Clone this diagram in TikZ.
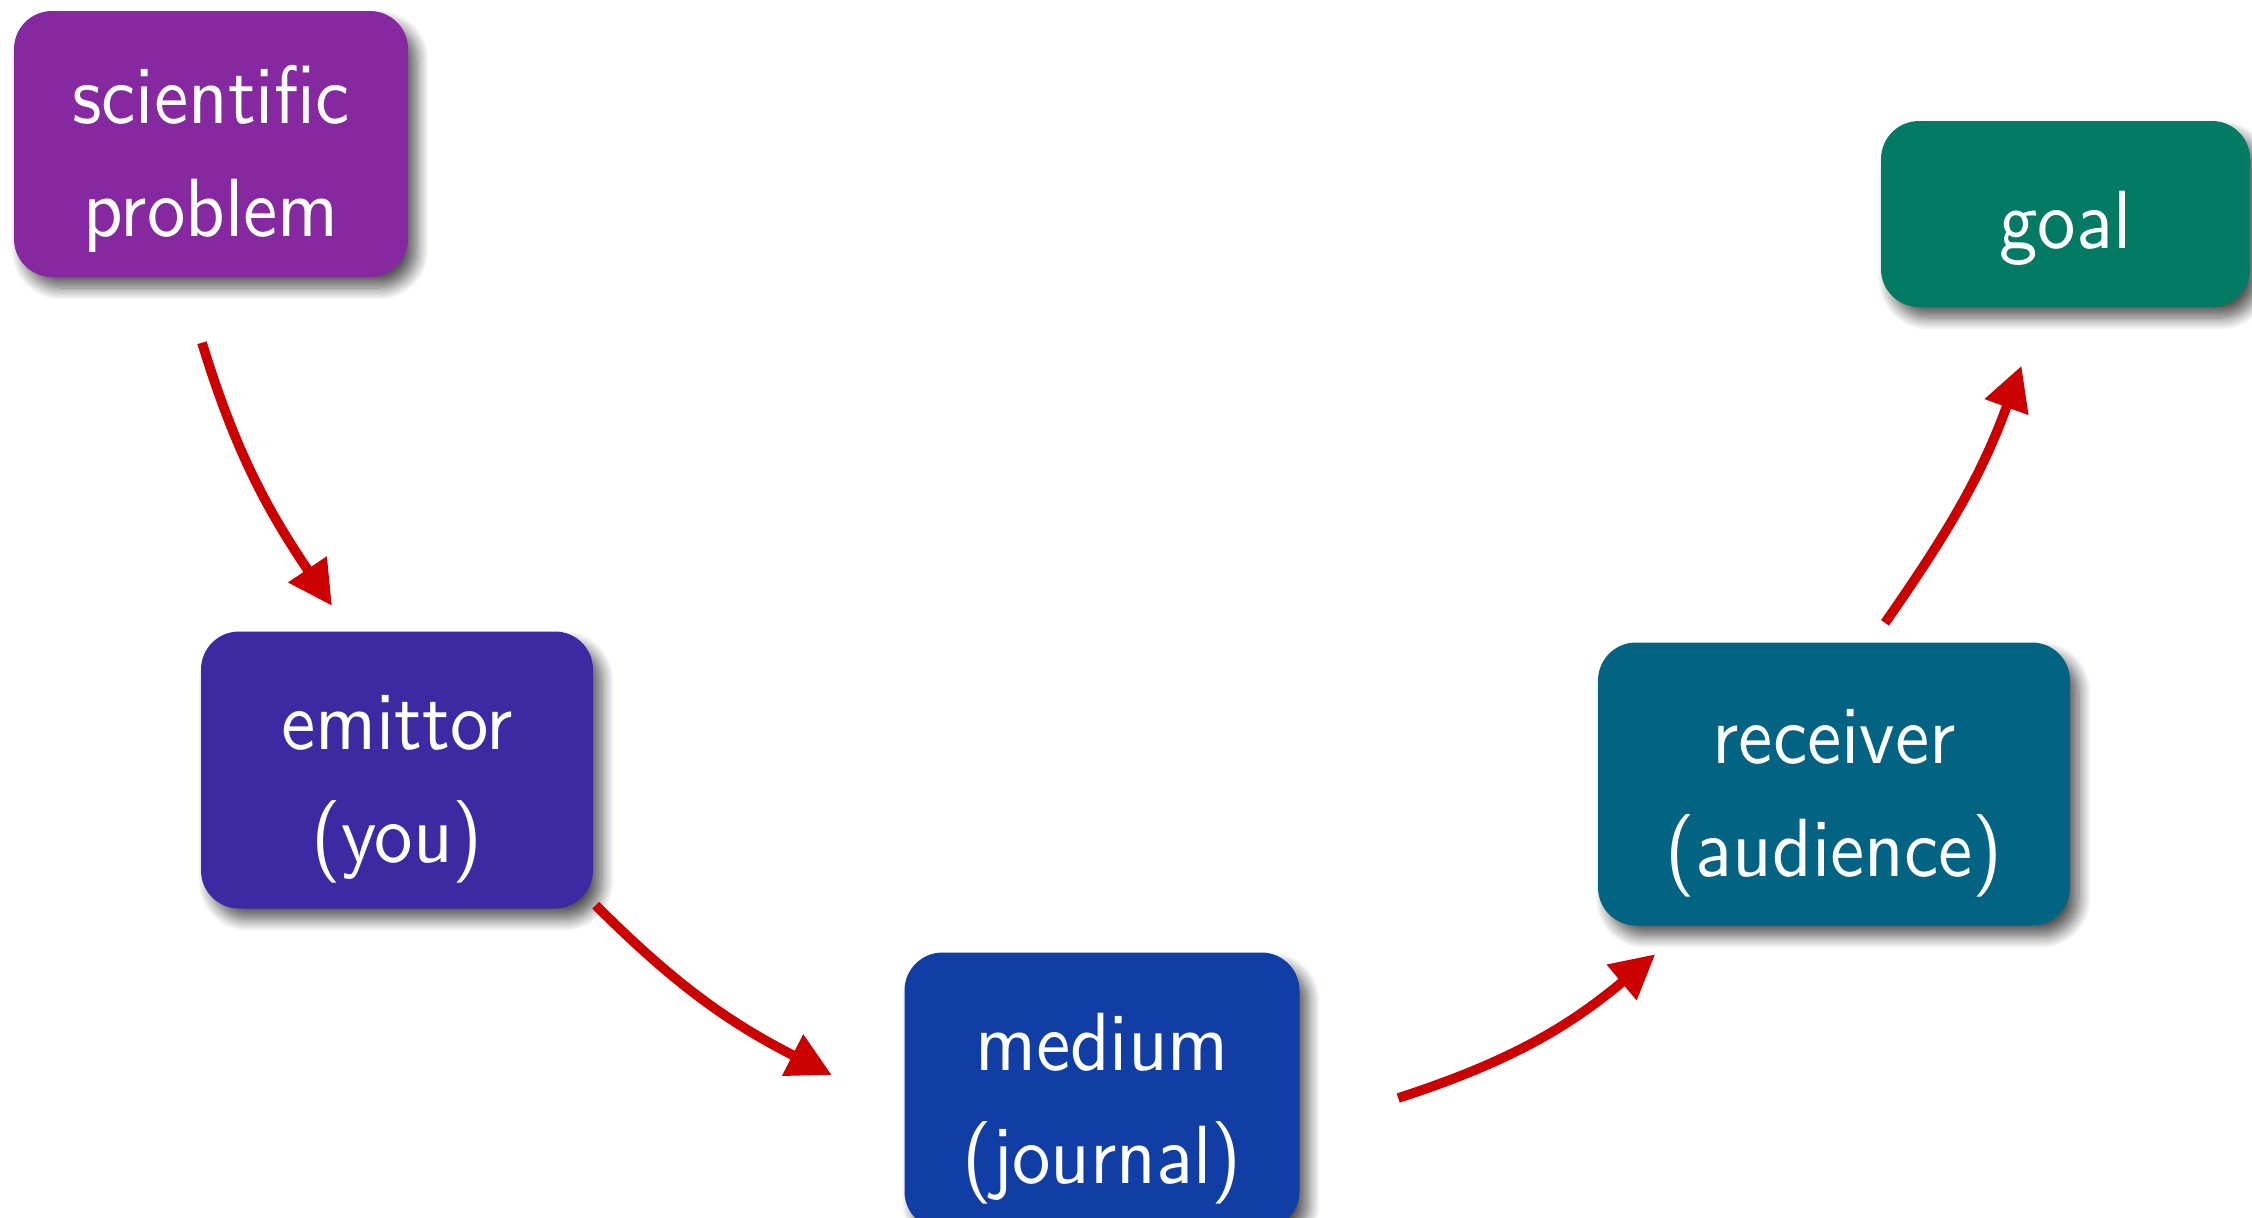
\documentclass[tikz,border=0pt]{standalone}
\usepackage{fontspec}
\setsansfont{lmsans10-regular.otf}[FakeStretch=0.93]
\usepackage{tikz}
\usetikzlibrary{arrows.meta,shadows.blur}
\definecolor{ProblemPurple}{RGB}{134,41,160}
\definecolor{EmittorIndigo}{RGB}{61,42,163}
\definecolor{MediumBlue}{RGB}{17,62,165}
\definecolor{ReceiverTeal}{RGB}{2,99,130}
\definecolor{GoalGreen}{RGB}{2,122,100}
\definecolor{ArrowRed}{RGB}{204,0,0}

\begin{document}
\begin{tikzpicture}[
    stage/.style={rectangle, rounded corners=0.38cm, inner sep=0pt,
        minimum height=2.77cm, text=white, align=center,
        font=\sffamily\fontsize{23.5pt}{32pt}\selectfont,
        text height=2.2cm, text depth=0.36cm,
        blur shadow={shadow xshift=0.09cm, shadow yshift=-0.11cm,
            shadow blur radius=0.12cm, shadow blur steps=12, shadow opacity=65}},
    flow/.style={draw=ArrowRed, line width=2.75pt,
        -{Triangle[length=0.44cm, width=0.44cm]}}
]
    % Frame of the slide (boxes at the right and bottom run off it)
    \useasboundingbox (0,0) rectangle (22.52,-12.17);
    \clip (0,0) rectangle (22.52,-12.17);

    % Stages of the communication chain
    \node[stage, fill=ProblemPurple, minimum width=3.94cm, minimum height=2.66cm]
        (problem) at (2.11,-1.44) {scientific\\problem};
    \node[stage, fill=EmittorIndigo, minimum width=3.92cm]
        (emittor) at (3.97,-7.70) {emittor\\(you)};
    \node[stage, fill=MediumBlue, minimum width=3.95cm]
        (medium) at (11.02,-10.91) {medium\\(journal)};
    \node[stage, fill=ReceiverTeal, minimum width=4.72cm, minimum height=2.83cm]
        (receiver) at (18.34,-7.84) {receiver\\(audience)};
    \node[stage, fill=GoalGreen, minimum width=3.69cm, minimum height=1.86cm,
        text height=0.84cm, text depth=0.16cm]
        (goal) at (20.655,-2.14) {goal};

    % Curved arrows from one stage to the next
    \draw[flow] ([xshift=-0.09cm,yshift=-0.65cm]problem.south)
        to[out=-73, in=124] ([xshift=-0.65cm,yshift=0.25cm]emittor.north);
    \draw[flow] ([xshift=0.02cm,yshift=0.04cm]emittor.south east)
        to[out=-45, in=153] ([xshift=-0.72cm,yshift=0.16cm]medium.west);
    \draw[flow] ([xshift=0.98cm,yshift=-0.07cm]medium.east)
        to[out=18, in=-140] ([xshift=0.58cm,yshift=-0.28cm]receiver.south west);
    \draw[flow] ([xshift=0.51cm,yshift=0.19cm]receiver.north)
        to[out=55, in=-110] ([xshift=-0.44cm,yshift=-0.58cm]goal.south);
\end{tikzpicture}
\end{document}
